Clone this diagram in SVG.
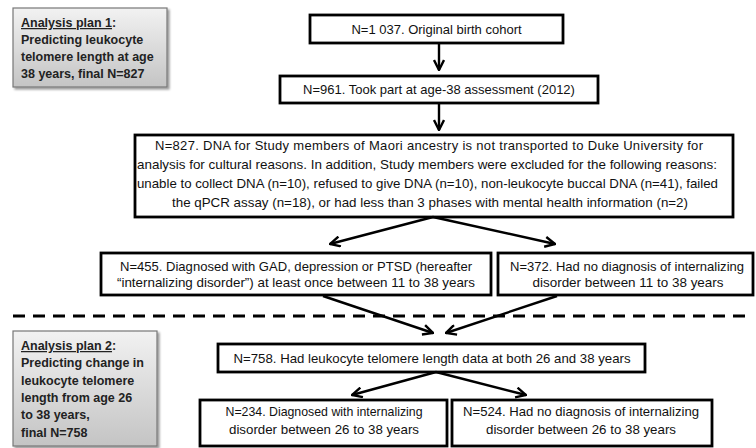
<svg xmlns="http://www.w3.org/2000/svg" width="756" height="448" viewBox="0 0 756 448">
<defs>
<linearGradient id="g" x1="0" y1="0" x2="0" y2="1"><stop offset="0" stop-color="#f2f2f2"/><stop offset="1" stop-color="#c4c4c4"/></linearGradient>
<marker id="ah" viewBox="0 0 12 12" refX="11" refY="6" markerWidth="12" markerHeight="12" markerUnits="userSpaceOnUse" orient="auto"><path d="M1,1 L11,6 L1,11" fill="none" stroke="#000" stroke-width="2.4"/></marker>
<filter id="sh" x="-10%" y="-10%" width="130%" height="130%"><feDropShadow dx="2" dy="2" stdDeviation="1.2" flood-color="#000" flood-opacity="0.4"/></filter>
</defs>
<style>
.b{fill:#fff;stroke:#000;stroke-width:2.8}
.p{fill:url(#g);stroke:#777;stroke-width:1.2;filter:url(#sh)}
.t{font-family:"Liberation Sans",Arial,sans-serif;font-size:13px;fill:#111}
.c{text-anchor:middle}
.pt{font-family:"Liberation Sans",Arial,sans-serif;font-size:12.5px;font-weight:bold;fill:#222}
.con{stroke:#000;stroke-width:2.4;fill:none;marker-end:url(#ah)}
</style>
<g id="plan1">
<rect class="p" x="13" y="8" width="154" height="79"/>
<text class="pt" x="21" y="27"><tspan text-decoration="underline">Analysis plan 1</tspan>:</text>
<text class="pt" x="21" y="44">Predicting leukocyte</text>
<text class="pt" x="21" y="61">telomere length at age</text>
<text class="pt" x="21" y="78">38 years, final N=827</text>
</g>
<g id="n1037">
<rect class="b" x="310" y="15" width="253" height="28"/>
<text class="t c" x="436.5" y="34">N=1 037. Original birth cohort</text>
</g>
<g id="n961">
<rect class="b" x="280" y="76" width="318" height="27"/>
<text class="t c" x="439" y="94">N=961. Took part at age-38 assessment (2012)</text>
</g>
<g id="n827">
<rect class="b" x="135" y="135" width="598" height="82"/>
<text class="t" x="155" y="150" textLength="548" lengthAdjust="spacing">N=827. DNA for Study members of Maori ancestry is not transported to Duke University for</text>
<text class="t" x="137" y="169" textLength="580" lengthAdjust="spacingAndGlyphs">analysis for cultural reasons. In addition, Study members were excluded for the following reasons:</text>
<text class="t" x="137" y="188" textLength="581" lengthAdjust="spacingAndGlyphs">unable to collect DNA (n=10), refused to give DNA (n=10), non-leukocyte buccal DNA (n=41), failed</text>
<text class="t" x="172" y="207" textLength="516" lengthAdjust="spacingAndGlyphs">the qPCR assay (n=18), or had less than 3 phases with mental health information (n=2)</text>
</g>
<g id="n455">
<rect class="b" x="101" y="253" width="390" height="42"/>
<text class="t c" x="296" y="271" textLength="352" lengthAdjust="spacingAndGlyphs">N=455. Diagnosed with GAD, depression or PTSD (hereafter</text>
<text class="t c" x="296" y="287" textLength="358" lengthAdjust="spacingAndGlyphs">“internalizing disorder”) at least once between 11 to 38 years</text>
</g>
<g id="n372">
<rect class="b" x="498" y="253" width="255" height="42"/>
<text class="t c" x="627" y="271" textLength="234" lengthAdjust="spacingAndGlyphs">N=372. Had no diagnosis of internalizing</text>
<text class="t c" x="628" y="287" textLength="191" lengthAdjust="spacingAndGlyphs">disorder between 11 to 38 years</text>
</g>
<g id="plan2">
<rect class="p" x="13" y="331" width="144" height="115"/>
<text class="pt" x="21" y="350"><tspan text-decoration="underline">Analysis plan 2</tspan>:</text>
<text class="pt" x="21" y="367">Predicting change in</text>
<text class="pt" x="21" y="385">leukocyte telomere</text>
<text class="pt" x="21" y="402">length from age 26</text>
<text class="pt" x="21" y="419">to 38 years,</text>
<text class="pt" x="21" y="437">final N=758</text>
</g>
<g id="n758">
<rect class="b" x="218" y="344" width="427" height="28"/>
<text class="t c" x="432" y="363" textLength="397" lengthAdjust="spacingAndGlyphs">N=758. Had leukocyte telomere length data at both 26 and 38 years</text>
</g>
<g id="n234">
<rect class="b" x="200" y="400" width="247" height="46"/>
<text class="t c" x="324" y="416" textLength="197" lengthAdjust="spacingAndGlyphs">N=234. Diagnosed with internalizing</text>
<text class="t c" x="324" y="434" textLength="190" lengthAdjust="spacingAndGlyphs">disorder between 26 to 38 years</text>
</g>
<g id="n524">
<rect class="b" x="452" y="400" width="260" height="46"/>
<text class="t c" x="581" y="416" textLength="236" lengthAdjust="spacingAndGlyphs">N=524. Had no diagnosis of internalizing</text>
<text class="t c" x="581" y="434" textLength="190" lengthAdjust="spacingAndGlyphs">disorder between 26 to 38 years</text>
</g>
<g id="connectors">
<line x1="13" y1="316" x2="748" y2="316" stroke="#000" stroke-width="3" stroke-dasharray="12 8"/>
<line class="con" x1="439" y1="43" x2="439" y2="70"/>
<line class="con" x1="439" y1="103" x2="439" y2="130"/>
<line class="con" x1="433" y1="217" x2="330" y2="244"/>
<line class="con" x1="433" y1="217" x2="555" y2="244"/>
<line class="con" x1="323" y1="296" x2="433" y2="333"/>
<line class="con" x1="557" y1="296" x2="446" y2="333"/>
<line class="con" x1="436" y1="372" x2="352" y2="395"/>
<line class="con" x1="436" y1="372" x2="526" y2="395"/>
</g>
</svg>
